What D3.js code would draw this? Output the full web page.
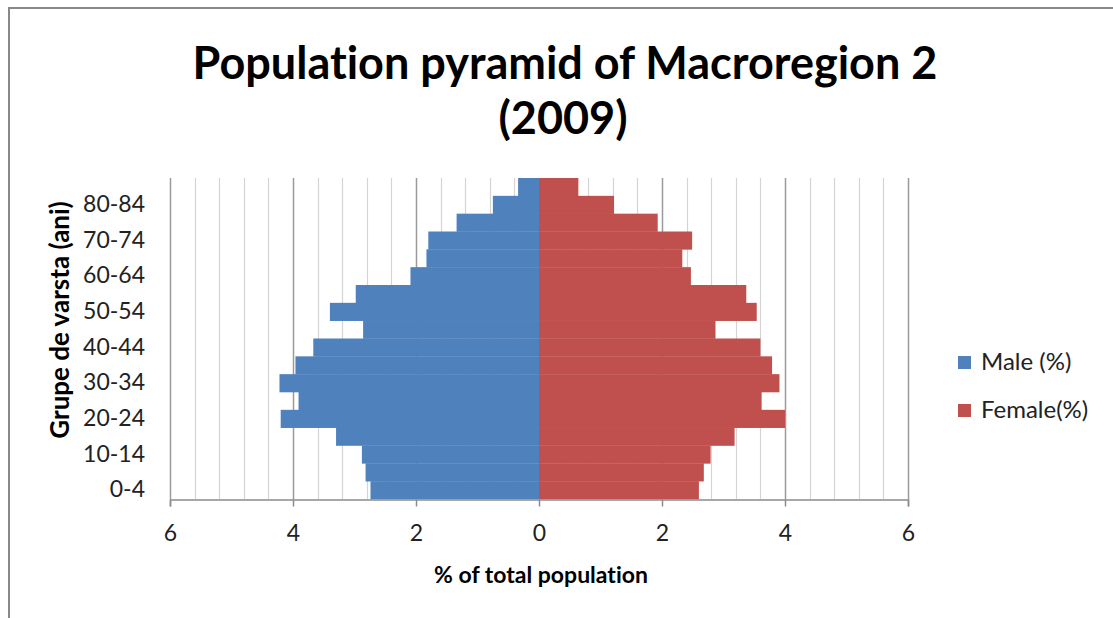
<!DOCTYPE html>
<html>
<head>
<meta charset="utf-8">
<script src="https://cdn.jsdelivr.net/npm/d3@7"></script>
<style>
  body { margin: 0; background: #fff; }
  svg { display: block; font-family: Lato, "Open Sans", sans-serif; font-variant-ligatures: none; }
</style>
</head>
<body>
<svg id="chart" width="1113" height="618"></svg>
<script>
"use strict";

// /////// DATA
const ageGroups = ["0-4", "5-9", "10-14", "15-19", "20-24", "25-29", "30-34", "35-39",
  "40-44", "45-49", "50-54", "55-59", "60-64", "65-69", "70-74", "75-79", "80-84", "85+"];
const male = [2.74, 2.82, 2.88, 3.30, 4.20, 3.91, 4.22, 3.96, 3.67, 2.86,
  3.40, 2.98, 2.09, 1.83, 1.80, 1.34, 0.75, 0.34];
const female = [2.60, 2.68, 2.79, 3.18, 4.00, 3.62, 3.91, 3.79, 3.60, 2.87,
  3.54, 3.37, 2.47, 2.33, 2.49, 1.93, 1.22, 0.64];
const xTicks = [-6, -4, -2, 0, 2, 4, 6];
const legendItems = [
  { name: "Male (%)", color: "#4F81BD" },
  { name: "Female(%)", color: "#C0504D" },
];

const svg = d3.select("#chart");

// chart frame
svg.append("path")
  .attr("d", "M9,618 V8 H1113")
  .attr("fill", "none")
  .attr("stroke", "#888")
  .attr("stroke-width", 2);

const x = d3.scaleLinear().domain([-6, 6]).range([170, 908]);
const y = d3.scaleBand().domain(ageGroups).range([499, 178]).padding(0);

// gridlines (minor every 0.4, major every 2)
const grid = svg.append("g");
d3.range(-15, 16).forEach((i) => {
  const v = i * 0.4;
  const major = i % 5 === 0;
  grid.append("line")
    .attr("x1", Math.round(x(v)) + 0.5)
    .attr("x2", Math.round(x(v)) + 0.5)
    .attr("y1", 178)
    .attr("y2", 499)
    .attr("stroke", major ? "#9a9a9a" : "#d4d4d4")
    .attr("stroke-width", major ? 1.5 : 1.2);
});

// bars
svg.append("g").selectAll("rect")
  .data(ageGroups)
  .join("rect")
  .attr("x", (d, i) => x(-male[i]))
  .attr("y", (d) => y(d))
  .attr("width", (d, i) => x(0) - x(-male[i]))
  .attr("height", y.bandwidth() + 0.3)
  .attr("fill", legendItems[0].color);

svg.append("g").selectAll("rect")
  .data(ageGroups)
  .join("rect")
  .attr("x", x(0))
  .attr("y", (d) => y(d))
  .attr("width", (d, i) => x(female[i]) - x(0))
  .attr("height", y.bandwidth() + 0.3)
  .attr("fill", legendItems[1].color);

// x axis
const xAxis = svg.append("g")
  .attr("transform", "translate(0,499.5)")
  .call(d3.axisBottom(x).tickValues(xTicks).tickSize(7).tickPadding(18)
    .tickFormat((d) => Math.abs(d)));
xAxis.select(".domain").attr("stroke", "#8c8c8c").attr("stroke-width", 1.5);
xAxis.selectAll(".tick line").attr("stroke", "#8c8c8c").attr("stroke-width", 1.5);
xAxis.selectAll("text")
  .attr("font-size", 23)
  .attr("font-family", "Lato")
  .attr("fill", "#222");

// y axis labels (every second group)
const yAxis = svg.append("g")
  .attr("transform", "translate(170,0)")
  .call(d3.axisLeft(y).tickValues(ageGroups.filter((d, i) => i % 2 === 0))
    .tickSize(0).tickPadding(25));
yAxis.select(".domain").remove();
yAxis.selectAll("text")
  .attr("font-size", 23)
  .attr("font-family", "Lato")
  .attr("fill", "#222");

// titles
const title = svg.append("text")
  .attr("text-anchor", "middle")
  .attr("font-weight", "bold")
  .attr("font-size", 45)
  .attr("fill", "#000");
title.append("tspan").attr("x", 565).attr("y", 79).text("Population pyramid of Macroregion 2");
title.append("tspan").attr("x", 563).attr("y", 134).text("(2009)");

svg.append("text")
  .attr("x", 541)
  .attr("y", 583)
  .attr("text-anchor", "middle")
  .attr("font-weight", "bold")
  .attr("font-size", 23)
  .text("% of total population");

svg.append("text")
  .attr("transform", "translate(69,320) rotate(-90)")
  .attr("text-anchor", "middle")
  .attr("font-weight", "bold")
  .attr("font-size", 26)
  .text("Grupe de varsta (ani)");

// legend
const legend = svg.append("g")
  .selectAll("g")
  .data(legendItems)
  .join("g")
  .attr("transform", (d, i) => `translate(958, ${356 + i * 48})`);
legend.append("rect")
  .attr("width", 13)
  .attr("height", 13)
  .attr("fill", (d) => d.color);
legend.append("text")
  .attr("x", 23)
  .attr("y", 14)
  .attr("font-size", 24)
  .attr("fill", "#222")
  .text((d) => d.name);
</script>
</body>
</html>
